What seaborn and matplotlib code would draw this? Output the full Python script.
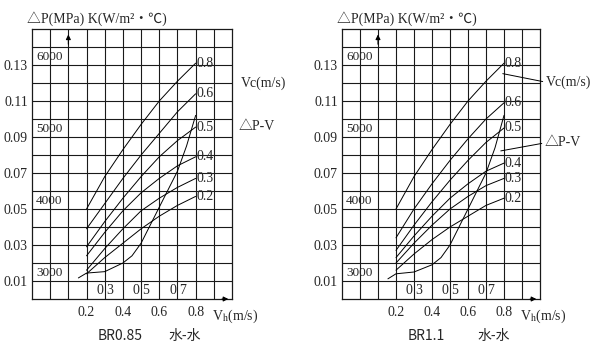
import matplotlib
matplotlib.use('Agg')
import matplotlib.pyplot as plt
import seaborn as sns

sns.set_style('white')
plt.rcParams['font.family'] = ['Liberation Serif', 'Noto Sans CJK SC', 'DejaVu Sans']
plt.rcParams['mathtext.fontset'] = 'stix'

# velocity of hot side, m/s
vh = [0.2, 0.3, 0.4, 0.5, 0.6, 0.7, 0.8]
vc_labels = ['0.2', '0.3', '0.4', '0.5', '0.6', '0.8']

# K curves (plotted on the dP scale), one list per Vc
left_curves = [
    [0.014, 0.023, 0.031, 0.039, 0.046, 0.052, 0.057],
    [0.016, 0.028, 0.039, 0.049, 0.056, 0.062, 0.067],
    [0.024, 0.037, 0.049, 0.059, 0.067, 0.074, 0.079],
    [0.029, 0.043, 0.056, 0.068, 0.079, 0.088, 0.0955],
    [0.039, 0.053, 0.067, 0.080, 0.092, 0.104, 0.114],
    [0.050, 0.068, 0.083, 0.097, 0.110, 0.121, 0.131],
]
right_curves = [
    [0.016, 0.025, 0.033, 0.040, 0.046, 0.052, 0.056],
    [0.020, 0.031, 0.041, 0.050, 0.057, 0.063, 0.067],
    [0.023, 0.035, 0.046, 0.056, 0.064, 0.071, 0.0755],
    [0.027, 0.041, 0.054, 0.066, 0.077, 0.087, 0.095],
    [0.034, 0.050, 0.064, 0.077, 0.089, 0.100, 0.109],
    [0.050, 0.068, 0.083, 0.097, 0.110, 0.121, 0.131],
]

# pressure drop curve
dpv_x = [0.155, 0.2, 0.3, 0.4, 0.45, 0.5, 0.55, 0.6, 0.65, 0.7, 0.75, 0.8]
dpv_left = [0.0117, 0.0144, 0.0152, 0.020, 0.024, 0.031, 0.041, 0.051, 0.061, 0.071, 0.085, 0.102]
dpv_right = [0.0112, 0.0140, 0.0150, 0.019, 0.023, 0.030, 0.040, 0.050, 0.060, 0.070, 0.084, 0.102]

dp_ticks = [0.01, 0.03, 0.05, 0.07, 0.09, 0.11, 0.13]
k_ticks = [0.01, 0.05, 0.09, 0.13]
k_labels = ['3000', '4000', '5000', '6000']
vh_ticks = [0.2, 0.4, 0.6, 0.8]
v_small = ['3', '5', '7']
v_small_pos = [0.3, 0.5, 0.7]

fig = plt.figure(figsize=(6, 3.52), dpi=100)
ax1 = fig.add_axes([32 / 600, 53 / 352, 200 / 600, 270 / 352])
ax2 = fig.add_axes([342 / 600, 53 / 352, 198 / 600, 270 / 352])

gray = '#1a1a1a'
fs = 10


def draw(ax, curves, dpv, model, right):
    ax.set_xlim(-0.1, 1.0)
    ax.set_ylim(0, 0.15)
    ax.set_xticks([i / 10 for i in range(0, 10)], minor=True)
    ax.set_yticks([i / 100 for i in range(1, 15)], minor=True)
    ax.set_xticks(vh_ticks)
    ax.set_xticklabels([str(v) for v in vh_ticks], fontsize=fs)
    ax.set_yticks(dp_ticks)
    ax.set_yticklabels([str(v) for v in dp_ticks], fontsize=fs)
    ax.grid(which='both', color=gray, lw=0.8)
    ax.tick_params(which='both', length=0, pad=3)
    ax.tick_params(axis='x', pad=5)
    for s in ax.spines.values():
        s.set_color(gray)
        s.set_linewidth(0.9)

    for vals, lab in zip(curves, vc_labels):
        sns.lineplot(x=vh, y=vals, ax=ax, color='black', lw=0.7, sort=False, estimator=None)
        ax.text(vh[-1] + 0.003, vals[-1], lab, fontsize=fs, ha='left', va='center')
    sns.lineplot(x=dpv_x, y=dpv, ax=ax, color='black', lw=0.7, sort=False, estimator=None)

    for y, t in zip(k_ticks, k_labels):
        ax.text(-0.077, y + 0.001, t, fontsize=fs - 0.5, ha='left', va='bottom')
    for x, t in zip(v_small_pos, v_small):
        ax.text(x - 0.008, 0.0045, '0', fontsize=fs, ha='right', va='center')
        ax.text(x + 0.008, 0.0045, t, fontsize=fs, ha='left', va='center')

    ax.annotate('', xy=(0.1, 0.1485), xytext=(0.1, 0.14),
                arrowprops=dict(arrowstyle='-|>', color='black', lw=0.8, mutation_scale=7))
    ax.annotate('', xy=(0.995, 0.0), xytext=(0.93, 0.0),
                arrowprops=dict(arrowstyle='-|>', color='black', lw=0.8, mutation_scale=7),
                annotation_clip=False)

    ax.text(-0.125, 0.1555, '△P(MPa) K(W/m²・℃)', fontsize=fs, ha='left', va='center', clip_on=False)
    ax.text(0.89, -0.0095, 'V$_{\\mathrm{h}}$(m/s)', fontsize=fs, ha='left', va='center')
    ax.text(0.262, -0.0205, model, fontsize=fs, ha='left', va='center',
            family=['Noto Sans CJK SC', 'DejaVu Sans'])
    ax.text(0.65, -0.0205, '水-水', fontsize=fs, ha='left', va='center',
            family=['Noto Sans CJK SC', 'DejaVu Sans'])

    if right:
        ax.text(1.03, 0.1205, 'Vc(m/s)', fontsize=fs, ha='left', va='center', clip_on=False)
        ax.text(1.025, 0.0867, '△P-V', fontsize=fs, ha='left', va='center', clip_on=False)
        ax.annotate('', xy=(0.778, 0.1255), xytext=(1.03, 0.1205),
                    arrowprops=dict(arrowstyle='-', color='black', lw=0.7), annotation_clip=False)
        ax.annotate('', xy=(0.767, 0.082), xytext=(1.025, 0.0867),
                    arrowprops=dict(arrowstyle='-', color='black', lw=0.7), annotation_clip=False)
    else:
        ax.text(1.05, 0.12, 'Vc(m/s)', fontsize=fs, ha='left', va='center', clip_on=False)
        ax.text(1.035, 0.0956, '△P-V', fontsize=fs, ha='left', va='center', clip_on=False)


draw(ax1, left_curves, dpv_left, 'BR0.85', False)
draw(ax2, right_curves, dpv_right, 'BR1.1', True)

fig.savefig('out.png', dpi=100)
